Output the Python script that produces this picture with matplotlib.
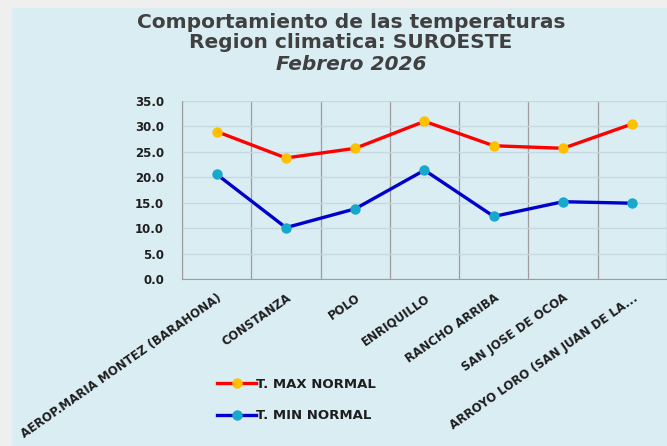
import numpy as np
from matplotlib import pyplot as plt
from matplotlib.patches import Rectangle

estaciones = ['AEROP.MARIA MONTEZ (BARAHONA)', 'CONSTANZA', 'POLO', 'ENRIQUILLO',
              'RANCHO ARRIBA', 'SAN JOSE DE OCOA', 'ARROYO LORO (SAN JUAN DE LA...']
t_max = [29.0, 23.8, 25.7, 31.0, 26.2, 25.7, 30.5]
t_min = [20.6, 10.1, 13.8, 21.4, 12.3, 15.2, 14.9]
yticks = [0, 5, 10, 15, 20, 25, 30, 35]

plt.rcParams['font.family'] = ['DejaVu Sans']

fig = plt.figure(figsize=(6.67, 4.46), dpi=100)
fig.patch.set_facecolor('#efefef')
fig.patches.append(Rectangle((12 / 667, 0), 1, 1 - 8 / 446, transform=fig.transFigure,
                             facecolor='#daedf3', edgecolor='none', zorder=-5))

ax = fig.add_axes([182 / 667, 1 - 279 / 446, 1 - 182 / 667, 178 / 446])
ax.set_facecolor('none')
x = np.arange(len(estaciones))

ax.plot(x, t_max, color='#ff0000', lw=2.4, marker='o', markersize=7.5,
        markerfacecolor='#ffc000', markeredgewidth=0, label='T. MAX NORMAL', zorder=3)
ax.plot(x, t_min, color='#0000cc', lw=2.4, marker='o', markersize=7.5,
        markerfacecolor='#17a9cc', markeredgewidth=0, label='T. MIN NORMAL', zorder=3)

ax.set_xlim(-0.5, len(estaciones) - 0.5)
ax.set_ylim(0, 35)
ax.set_yticks(yticks)
ax.set_yticklabels(['%.1f' % v for v in yticks], fontsize=8.5, fontweight='bold', color='#1e1e1e')
ax.set_xticks(x)
ax.set_xticklabels(estaciones, rotation=35, ha='right', rotation_mode='anchor',
                   fontsize=8.5, fontweight='bold', color='#1e1e1e')
ax.set_xticks(np.arange(-0.5, len(estaciones), 1.0), minor=True)
ax.tick_params(axis='y', length=0, pad=13)
ax.tick_params(axis='x', length=0, pad=9)
ax.tick_params(axis='x', which='minor', length=0)
ax.grid(axis='y', color='#c6d9e2', lw=1)
ax.grid(axis='x', which='minor', color='#9c9c9c', lw=0.9)
ax.grid(axis='x', which='major', visible=False)
for s in ['top', 'right']:
    ax.spines[s].set_visible(False)
ax.spines['left'].set_color('#9c9c9c')
ax.spines['bottom'].set_color('#9c9c9c')

titulo = ['Comportamiento de las temperaturas', 'Region climatica: SUROESTE', 'Febrero 2026']
for i, linea in enumerate(titulo):
    fig.text(0.526, 1 - (22 + 21 * i) / 446, linea, ha='center', va='center',
             fontsize=14.5, fontweight='bold', style='italic' if i == 2 else 'normal',
             color='#404040')

leg = ax.legend(loc='upper left', bbox_to_anchor=(205 / 667, 1 - 366 / 446),
                bbox_transform=fig.transFigure, frameon=False, handlelength=3.0,
                handletextpad=0.0, labelspacing=1.4, prop={'size': 9.5, 'weight': 'bold'})
for t in leg.get_texts():
    t.set_color('#1e1e1e')

fig.savefig('out.png', dpi=100, facecolor=fig.get_facecolor())
